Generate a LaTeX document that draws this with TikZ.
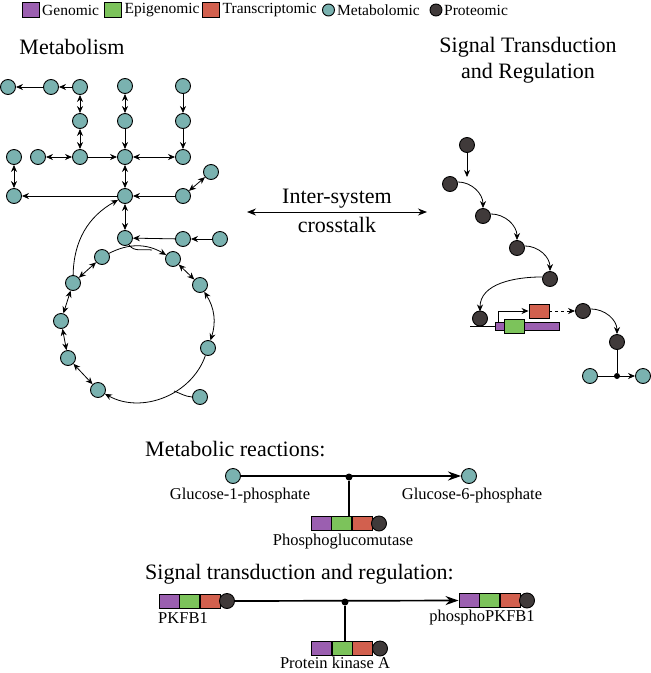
\documentclass[tikz,border=0pt]{standalone}
\usepackage{fontspec}
\setmainfont{Liberation Serif}
\usetikzlibrary{arrows.meta,calc}
\definecolor{metc}{RGB}{122,178,176}
\definecolor{protc}{RGB}{64,58,58}
\definecolor{genc}{RGB}{155,95,176}
\definecolor{epic}{RGB}{124,195,91}
\definecolor{trac}{RGB}{210,96,78}
\begin{document}
\begin{tikzpicture}[x=1pt,y=-1pt,
  met/.style={circle,draw=black,fill=metc,line width=0.9pt,minimum size=15pt,inner sep=0pt},
  prot/.style={circle,draw=black,fill=protc,line width=0.9pt,minimum size=15pt,inner sep=0pt},
  ar/.style={-{Stealth[length=7pt,width=6pt]},line width=0.8pt},
  bi/.style={{Stealth[length=7pt,width=6pt]}-{Stealth[length=7pt,width=6pt]},line width=0.8pt},
  bigar/.style={-{Stealth[length=13pt,width=9pt]},line width=1.7pt},
  stem/.style={line width=1.7pt},
  jdot/.style={circle,fill=black,minimum size=7pt,inner sep=0pt},
  gbox/.style={draw=black,line width=0.9pt,minimum width=20pt,minimum height=14pt,inner sep=0pt},
  lgbox/.style={draw=black,line width=0.9pt,minimum width=17pt,minimum height=15pt,inner sep=0pt},
  lgcirc/.style={circle,draw=black,line width=0.9pt,minimum size=12pt,inner sep=0pt},
  legtxt/.style={anchor=west,inner sep=0pt,font=\fontsize{15.5}{18}\selectfont},
  ttl/.style={inner sep=0pt,font=\fontsize{22}{26}\selectfont},
  lbl/.style={inner sep=0pt,font=\fontsize{16.5}{19}\selectfont}
]
\path[use as bounding box] (0,0) rectangle (651,673);

% ---------------- legend
\node[lgbox,fill=genc] (lg1) at (30.5,10) {};
\node[legtxt] (lt1) at (42,10) {Genomic};
\node[lgbox,fill=epic] (lg2) at (113,10) {};
\node[legtxt] (lt2) at (124.5,10) {Epigenomic};
\node[lgbox,fill=trac] (lg3) at (211,10) {};
\node[legtxt] (lt3) at (222.5,10) {Transcriptomic};
\node[lgcirc,fill=metc] (lg4) at (328.5,10) {};
\node[legtxt] (lt4) at (337,10) {Metabolomic};
\node[lgcirc,fill=protc] (lg5) at (436,10) {};
\node[legtxt] (lt5) at (444,10) {Proteomic};

% ---------------- titles
\node[ttl] (tmet) at (72,47) {Metabolism};
\node[ttl] (tsig1) at (528,47) {Signal Transduction};
\node[ttl] (tsig2) at (528,73) {and Regulation};

% ---------------- crosstalk
\node[ttl] (cx1) at (337,199) {Inter-system};
\node[ttl] (cx2) at (337,225) {crosstalk};
\coordinate (xa) at (247,212);
\coordinate (xb) at (427,212);
\draw[{Stealth[length=9pt,width=7pt]}-{Stealth[length=9pt,width=7pt]},line width=0.9pt] (xa) -- (xb);

% ---------------- metabolism network
\node[met] (m1) at (8,87) {};
\node[met] (m2) at (51,87) {};
\node[met] (m3) at (80,87) {};
\node[met] (m4) at (125,86) {};
\node[met] (m5) at (183,86) {};
\node[met] (m6) at (80,121) {};
\node[met] (m7) at (125,121) {};
\node[met] (m8) at (183,121) {};
\node[met] (m9) at (14,157) {};
\node[met] (m10) at (38,157) {};
\node[met] (m11) at (80,157) {};
\node[met] (m12) at (125,157) {};
\node[met] (m13) at (183,157) {};
\node[met] (m14) at (14,196) {};
\node[met] (m15) at (125,196) {};
\node[met] (m16) at (183,196) {};
\node[met] (m17) at (211,172) {};
\node[met] (m18) at (125,238) {};
\node[met] (m19) at (183,239) {};
\node[met] (m20) at (220,239) {};
\node[met] (c1) at (102,257) {};
\node[met] (c2) at (173,259) {};
\node[met] (c3) at (73,283) {};
\node[met] (c4) at (200,285) {};
\node[met] (c5) at (61,321) {};
\node[met] (c6) at (208,348) {};
\node[met] (c7) at (68,358) {};
\node[met] (c8) at (98,390) {};
\node[met] (m21) at (200,397) {};

\draw[ar] (m3) -- (m2);
\draw[ar] (m2) -- (m1);
\draw[bi] (m3) -- (m6);
\draw[bi] (m6) -- (m11);
\draw[bi] (m4) -- (m7);
\draw[ar] (m7) -- (m12);
\draw[ar] (m5) -- (m8);
\draw[ar] (m8) -- (m13);
\draw[bi] (m10) -- (m11);
\draw[ar] (m11) -- (m12);
\draw[bi] (m12) -- (m13);
\draw[bi] (m9) -- (m14);
\draw[bi] (m12) -- (m15);
\draw[ar] (m15) -- (m14);
\draw[ar] (m16) -- (m15);
\draw[bi] (m17) -- (m16);
\draw[bi] (m15) -- (m18);
\draw[ar] (m19) -- (m18);
\draw[ar] (m20) -- (m19);
\draw[ar] (c1) to[bend left=29] (c2);
\coordinate (mg1) at (152,250);
\draw[line width=0.8pt] (m18.-60) to[out=-55,in=172] (mg1);
\draw[bi] (c1) -- (c3);
\draw[bi] (c3) -- (c5);
\draw[bi] (c5) -- (c7);
\draw[bi] (c7) -- (c8);
\draw[bi] (c2) -- (c4);
\draw[bi] (c4) to[bend left=25] (c6);
\draw[ar] (c6) to[bend left=50] (c8);
\coordinate (mg2) at (174,391);
\draw[line width=0.8pt] (m21.west) to[out=175,in=-20] (mg2);
\draw[ar] (c3) to[bend left=30] (m15);

% ---------------- signal transduction
\node[prot] (s1) at (467,145) {};
\node[prot] (s2) at (450,184) {};
\node[prot] (s3) at (483,216) {};
\node[prot] (s4) at (517,248) {};
\node[prot] (s5) at (550,279) {};
\node[prot] (s7) at (583,311) {};
\node[prot] (s8) at (617,342) {};
\node[met] (t1) at (590,376) {};
\node[met] (t2) at (643,376) {};
\node[jdot,minimum size=6pt] (j1) at (617,376) {};

\coordinate (a1) at (467,177);
\draw[ar] (s1) -- (a1);
\draw[ar] (s2.15) to[out=0,in=90] (s3.north);
\draw[ar] (s3.15) to[out=0,in=90] (s4.north);
\draw[ar] (s4.15) to[out=0,in=90] (s5.north);
\draw[ar] (s5.165) to[out=180,in=90] (480,311.5);
\draw[ar] (s7.15) to[out=0,in=90] (s8.north);
\draw[line width=0.9pt] (s8) -- (j1);
\draw[ar] (t1) -- (t2);

% gene
\coordinate (gl) at (470,326);
\coordinate (gr) at (498,326);
\draw[line width=0.9pt] (gl) -- (gr);
\node[prot] (s6) at (480,318.5) {};
\coordinate (pr) at (498,322);
\node[gbox,fill=trac] (rb) at (539,311) {};
\draw[ar] (pr) |- (rb.west);
\node[draw=black,line width=0.9pt,fill=genc,minimum width=64pt,minimum height=8pt,inner sep=0pt] (gbar) at (527,326) {};
\node[gbox,fill=epic] (gb) at (514,326) {};
\draw[ar,dashed] (rb.east) -- (s7.west);

% ---------------- metabolic reactions
\node[ttl,anchor=west] (hmr) at (145,449) {Metabolic reactions:};
\node[met] (g1) at (233,476) {};
\node[met] (g2) at (469,476) {};
\draw[bigar] (g1) -- (g2);
\node[jdot] (d1) at (349,477) {};
\node[gbox,fill=genc] (mc1) at (321,523.5) {};
\node[gbox,fill=epic] (mc2) at (341.5,523.5) {};
\node[gbox,fill=trac] (mc3) at (362,523.5) {};
\node[prot] (mc4) at (379,523.5) {};
\draw[stem] (d1) -- (d1 |- mc2.north);
\node[lbl] (lg1p) at (240,496) {Glucose-1-phosphate};
\node[lbl] (lg6p) at (472,496) {Glucose-6-phosphate};
\node[lbl] (lpgm) at (343,542) {Phosphoglucomutase};

% ---------------- signal transduction and regulation
\node[ttl,anchor=west] (hst) at (145,574) {Signal transduction and regulation:};
\node[gbox,fill=genc] (lc1) at (169,601) {};
\node[gbox,fill=epic] (lc2) at (189.5,601) {};
\node[gbox,fill=trac] (lc3) at (210,601) {};
\node[prot] (lc4) at (227,601) {};
\node[gbox,fill=genc] (rc1) at (469,600.5) {};
\node[gbox,fill=epic] (rc2) at (489.5,600.5) {};
\node[gbox,fill=trac] (rc3) at (510,600.5) {};
\node[prot] (rc4) at (527,600.5) {};
\draw[bigar] (lc4) -- (rc1);
\node[jdot] (d2) at (345,602) {};
\node[gbox,fill=genc] (bc1) at (321.5,648.5) {};
\node[gbox,fill=epic] (bc2) at (342,648.5) {};
\node[gbox,fill=trac] (bc3) at (362.5,648.5) {};
\node[prot] (bc4) at (380,648.5) {};
\draw[stem] (d2) -- (d2 |- bc2.north);
\node[lbl] (lpk) at (183,618) {PKFB1};
\node[lbl] (lppk) at (482,618) {phosphoPKFB1};
\node[lbl] (lpka) at (335,663) {Protein kinase A};
\end{tikzpicture}
\end{document}
